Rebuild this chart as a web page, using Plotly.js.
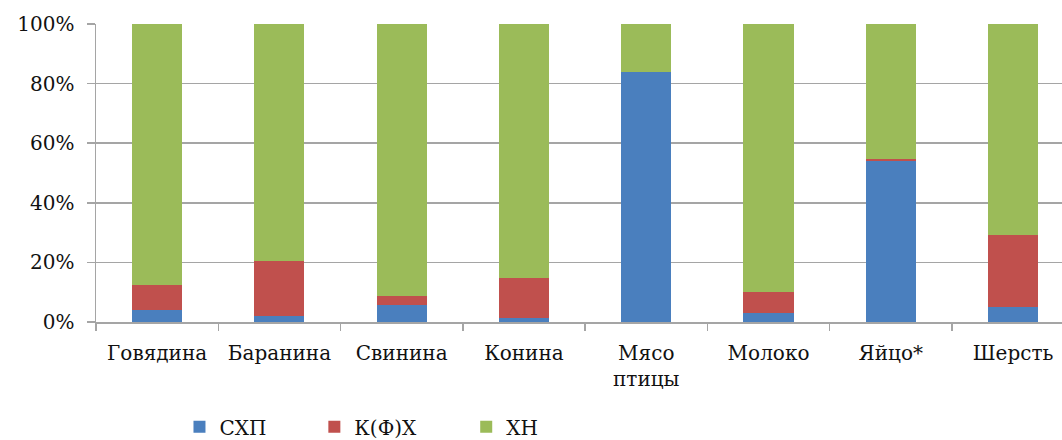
<!DOCTYPE html>
<html><head><meta charset="utf-8">
<script src="https://cdn.plot.ly/plotly-3.0.1.min.js"></script>
<style>html,body{margin:0;padding:0;background:#fff;}#chart{width:1062px;height:440px;}</style>
</head><body><div id="chart"></div>
<script>
var categories = ["Говядина", "Баранина", "Свинина", "Конина", "Мясо<br>птицы", "Молоко", "Яйцо*", "Шерсть"];
var seriesNames = ["СХП", "К(Ф)Х", "ХН"];
var shp  = [4.0, 2.0, 5.7, 1.3, 84.0, 3.1, 54.0, 5.1];
var kfh  = [8.5, 18.6, 3.0, 13.6, 0.0, 7.0, 0.8, 24.1];
var hn   = [87.5, 79.4, 91.3, 85.1, 16.0, 89.9, 45.2, 70.8];
var yTicks = [0, 20, 40, 60, 80, 100];

var colors = ["#4A7FBE", "#C0504D", "#9BBB59"];
var font = {family: "DejaVu Serif", size: 20, color: "#111"};
var vals = [shp, kfh, hn];
var legendPos = [0.169, 0.296, 0.439];
var legendIds = ["legend", "legend2", "legend3"];
var traces = vals.map(function (v, i) {
  return {type: "bar", name: seriesNames[i], x: categories, y: v,
    marker: {color: colors[i], line: {width: 0}}, legend: legendIds[i],
    hoverinfo: "skip"};
});
var layout = {
  width: 1062, height: 440, barmode: "stack", bargap: 0.59,
  margin: {l: 96, r: 0, t: 24, b: 118},
  paper_bgcolor: "#fff", plot_bgcolor: "#fff", font: font,
  xaxis: {type: "category", range: [-0.5, 7.4], tickson: "boundaries", ticks: "outside",
    ticklen: 7, tickwidth: 1.5, tickcolor: "#a5a5a5", showline: true, linecolor: "#a5a5a5",
    linewidth: 1.5, showgrid: false, tickfont: font, ticklabelstandoff: 12, fixedrange: true},
  yaxis: {range: [0, 100], tickvals: yTicks, ticktext: yTicks.map(function (t) { return t + "%"; }),
    ticks: "outside", ticklen: 8, tickwidth: 1.5, tickcolor: "#a5a5a5", showline: true,
    linecolor: "#a5a5a5", linewidth: 1.5, gridcolor: "#a5a5a5", gridwidth: 1.5,
    zeroline: false, tickfont: font, ticklabelstandoff: 8, fixedrange: true},
  showlegend: true
};
legendIds.forEach(function (id, i) {
  layout[id] = {x: legendPos[i], xref: "container", y: 0.03, yref: "container",
    xanchor: "left", yanchor: "middle", orientation: "h", font: font,
    bgcolor: "rgba(0,0,0,0)", itemwidth: 30};
});
Plotly.newPlot("chart", traces, layout, {displayModeBar: false, staticPlot: true});
</script></body></html>
